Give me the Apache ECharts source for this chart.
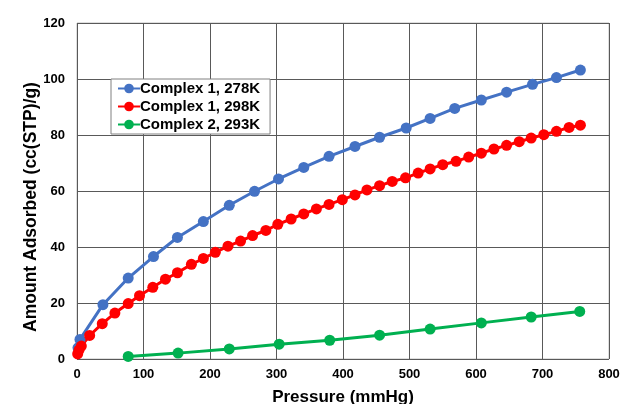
<!DOCTYPE html>
<html><head><meta charset="utf-8">
<script src="https://cdn.jsdelivr.net/npm/echarts@6/dist/echarts.min.js"></script>
<style>html,body{margin:0;padding:0;background:#fff}#c{width:621px;height:404px}</style>
</head><body><div id="c"></div>
<script>
const seriesNames = ['Complex 1, 278K', 'Complex 1, 298K', 'Complex 2, 293K'];
const xTicks = [0,100,200,300,400,500,600,700,800];
const yTicks = [0,20,40,60,80,100,120];
const complex1_278 = [[1.5,4.0],[4.5,7.0],[39,19.4],[77,28.9],[115,36.6],[151,43.4],[190,49.1],[229,54.9],[267,59.9],[303,64.3],[341,68.4],[379,72.4],[418,75.9],[455,79.2],[495,82.5],[531,85.9],[568,89.5],[608,92.5],[646,95.3],[685,98.1],[721,100.5],[757,103.2]];
const complex1_298 = [[1,1.8],[3,3.2],[6.5,4.6],[19,8.4],[38,12.6],[57,16.4],[77,19.8],[94,22.6],[114,25.6],[133,28.5],[151,30.8],[172,33.8],[190,35.9],[208,38.1],[227,40.3],[246,42.1],[264,44.1],[284,45.9],[302,48.1],[322,50.0],[341,51.8],[360,53.6],[379,55.2],[399,56.9],[418,58.6],[436,60.4],[455,61.9],[474,63.4],[494,64.7],[513,66.4],[531,67.9],[550,69.4],[570,70.6],[589,72.1],[608,73.5],[627,75.0],[646,76.3],[665,77.6],[683,78.9],[702,80.1],[721,81.3],[740,82.7],[757,83.5]];
const complex2_293 = [[77,0.9],[152,2.1],[229,3.6],[304,5.3],[380,6.7],[455,8.5],[531,10.7],[608,12.9],[683,15.0],[756,17.0]];
const colors = ['#4472C4','#FF0000','#00B050'];
const chart = echarts.init(document.getElementById('c'));
const font = 'Arial, "Liberation Sans", sans-serif';
function mk(name, data, color){
  return {name, type:'line', data, symbol:'circle', symbolSize:11, showSymbol:true,
    lineStyle:{width:3, color}, itemStyle:{color}, emphasis:{disabled:true}, animation:false, z:3};
}
chart.setOption({
  animation:false,
  grid:{left:77, right:12, top:23, bottom:45, containLabel:false, outerBoundsMode:'none', show:true, borderColor:'#bfbfbf', borderWidth:1},
  legend:{orient:'vertical', left:111, top:79, data:seriesNames, backgroundColor:'#fff',
    borderColor:'#808080', borderWidth:1, padding:[2,10,2,6], itemGap:3, itemWidth:22, itemHeight:12,
    textStyle:{fontFamily:font, fontWeight:'bold', fontSize:15, color:'#000', padding:[0,0,0,-5]}},
  xAxis:{type:'value', min:0, max:800, interval:100,
    name:'Pressure (mmHg)', nameLocation:'middle', nameGap:30, nameMoveOverlap:false,
    nameTextStyle:{fontFamily:font, fontWeight:'bold', fontSize:17, color:'#000'},
    axisLine:{show:false}, axisTick:{show:false},
    axisLabel:{fontFamily:font, fontWeight:'bold', fontSize:13, color:'#000', margin:9,
      formatter:v=>xTicks.includes(v)?String(v):''},
    splitLine:{show:true, lineStyle:{color:'#595959', width:1}}},
  yAxis:{type:'value', min:0, max:120, interval:20,
    name:'Amount Adsorbed (cc(STP)/g)', nameLocation:'middle', nameGap:37, nameMoveOverlap:false,
    nameTextStyle:{fontFamily:font, fontWeight:'bold', fontSize:17.5, color:'#000', padding:[0,32,0,0]},
    axisLine:{show:false}, axisTick:{show:false},
    axisLabel:{fontFamily:font, fontWeight:'bold', fontSize:13, color:'#000', margin:12,
      formatter:v=>yTicks.includes(v)?String(v):''},
    splitLine:{show:true, lineStyle:{color:'#595959', width:1}}},
  series:[mk(seriesNames[0], complex1_278, colors[0]), mk(seriesNames[1], complex1_298, colors[1]), mk(seriesNames[2], complex2_293, colors[2])]
});
</script></body></html>
